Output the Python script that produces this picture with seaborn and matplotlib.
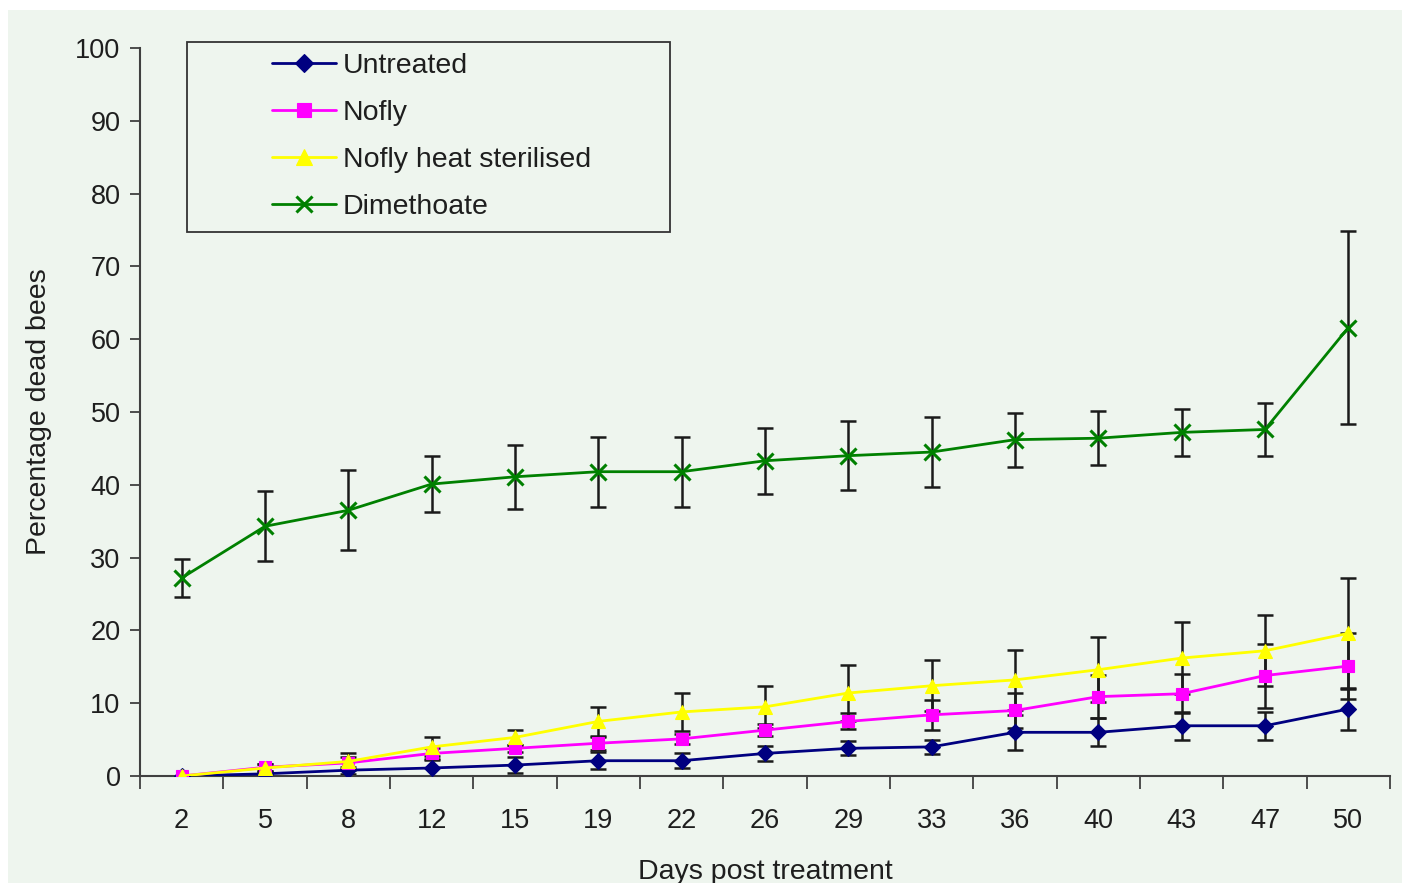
import matplotlib
matplotlib.use("Agg")
import matplotlib.pyplot as plt
from matplotlib.patches import Rectangle
import numpy as np
import pandas as pd
import seaborn as sns

days = ["2", "5", "8", "12", "15", "19", "22", "26", "29", "33", "36", "40", "43", "47", "50"]
series_names = ["Untreated", "Nofly", "Nofly heat sterilised", "Dimethoate"]

untreated = [0.0, 0.3, 0.8, 1.1, 1.5, 2.1, 2.1, 3.1, 3.8, 4.0, 6.0, 6.0, 6.9, 6.9, 9.2]
untreated_err = [0.0, 0.4, 0.5, 1.1, 1.05, 1.2, 1.0, 1.0, 0.95, 0.95, 2.4, 1.9, 1.9, 1.9, 2.9]

nofly = [0.0, 1.2, 1.8, 3.1, 3.8, 4.5, 5.1, 6.3, 7.5, 8.4, 9.0, 10.9, 11.3, 13.8, 15.1]
nofly_err = [0.0, 0.5, 0.8, 0.7, 0.5, 0.9, 0.7, 0.8, 1.1, 2.1, 2.4, 3.0, 2.7, 4.4, 4.5]

nofly_heat = [0.0, 1.1, 2.0, 4.0, 5.3, 7.5, 8.8, 9.5, 11.4, 12.4, 13.2, 14.6, 16.2, 17.2, 19.6]
nofly_heat_err = [0.0, 0.5, 1.2, 1.3, 1.0, 2.0, 2.6, 2.9, 3.8, 3.5, 4.1, 4.5, 4.9, 4.9, 7.6]

dimethoate = [27.2, 34.3, 36.5, 40.1, 41.1, 41.8, 41.8, 43.3, 44.0, 44.5, 46.2, 46.4, 47.2, 47.6, 61.6]
dimethoate_err = [2.6, 4.8, 5.5, 3.8, 4.4, 4.8, 4.8, 4.5, 4.7, 4.8, 3.7, 3.7, 3.2, 3.7, 13.3]

values = [untreated, nofly, nofly_heat, dimethoate]
errors = [untreated_err, nofly_err, nofly_heat_err, dimethoate_err]

colors = {"Untreated": "#000080", "Nofly": "#ff00ff",
          "Nofly heat sterilised": "#ffff00", "Dimethoate": "#008000"}
markers = {"Untreated": "D", "Nofly": "s",
           "Nofly heat sterilised": "^", "Dimethoate": "x"}
msizes = {"Untreated": 8.5, "Nofly": 9, "Nofly heat sterilised": 10.5, "Dimethoate": 11}

rows = []
for name, vals, errs in zip(series_names, values, errors):
    for i, (d, v, e) in enumerate(zip(days, vals, errs)):
        rows.append({"pos": i, "day": d, "series": name, "value": v, "err": e})
df = pd.DataFrame(rows)

sns.set_theme(style="white")
plt.rcParams["font.family"] = ["Liberation Sans", "DejaVu Sans"]

BG = "#eef5ee"
TXT = "#1e1e1e"
fig = plt.figure(figsize=(14.08, 8.83), dpi=100, facecolor="white")
fig.patches.append(Rectangle((8 / 1408, 0), (1402 - 8) / 1408, (883 - 10) / 883,
                             transform=fig.transFigure, facecolor=BG,
                             edgecolor="none", zorder=-10))
ax = fig.add_axes([140 / 1408, 1 - 776 / 883, 1250 / 1408, 728 / 883])
ax.patch.set_alpha(0)

# error bars
for name in series_names:
    sub = df[df["series"] == name]
    ax.errorbar(sub["pos"], sub["value"], yerr=sub["err"], fmt="none",
                ecolor="#1a1a1a", elinewidth=1.8, capsize=6, capthick=1.8,
                zorder=2)

for name in series_names:
    sub = df[df["series"] == name]
    sns.lineplot(data=sub, x="pos", y="value", color=colors[name],
                 marker=markers[name], markersize=msizes[name],
                 markeredgecolor=colors[name],
                 markeredgewidth=2.2 if name == "Dimethoate" else 0.8,
                 linewidth=2.0, ax=ax, label=name, zorder=3,
                 estimator=None, errorbar=None)

ax.set_xlim(-0.5, len(days) - 0.5)
ax.set_ylim(0, 100)
ax.set_yticks(np.arange(0, 101, 10))
ax.set_xticks(np.arange(len(days)))
ax.set_xticklabels(days)
ax.set_xticks(np.arange(len(days) + 1) - 0.5, minor=True)

for s in ["top", "right"]:
    ax.spines[s].set_visible(False)
for s in ["left", "bottom"]:
    ax.spines[s].set_color("#404040")
    ax.spines[s].set_linewidth(1.5)

ax.tick_params(axis="y", which="major", direction="out", length=7, width=1.3,
               color="#404040", labelsize=19.5, pad=7, labelcolor=TXT, left=True)
ax.tick_params(axis="x", which="major", length=0, labelsize=19.5, pad=23,
               labelcolor=TXT)
ax.tick_params(axis="x", which="minor", direction="out", length=9, width=1.3,
               color="#404040", bottom=True)

ax.set_ylabel("Percentage dead bees", fontsize=20.5, labelpad=17, color=TXT)
ax.set_xlabel("Days post treatment", fontsize=20.5, labelpad=18, color=TXT)

# legend frame
ax.add_patch(Rectangle(((187 - 140) / 1250, (776 - 232) / 728),
                       (670 - 187) / 1250, (232 - 42) / 728,
                       transform=ax.transAxes, facecolor=BG, edgecolor="#333333",
                       linewidth=1.3, zorder=4, clip_on=False))
leg = ax.legend(loc="upper left", bbox_to_anchor=((263 - 140) / 1250, (776 - 44) / 728),
                frameon=False, fontsize=20.5, handlelength=2.25, handletextpad=0.25,
                labelspacing=0.74, borderaxespad=0, borderpad=0.3, markerscale=1.1)
for t in leg.get_texts():
    t.set_color(TXT)
leg.set_zorder(5)

fig.savefig("out.png", dpi=100, facecolor=fig.get_facecolor())
